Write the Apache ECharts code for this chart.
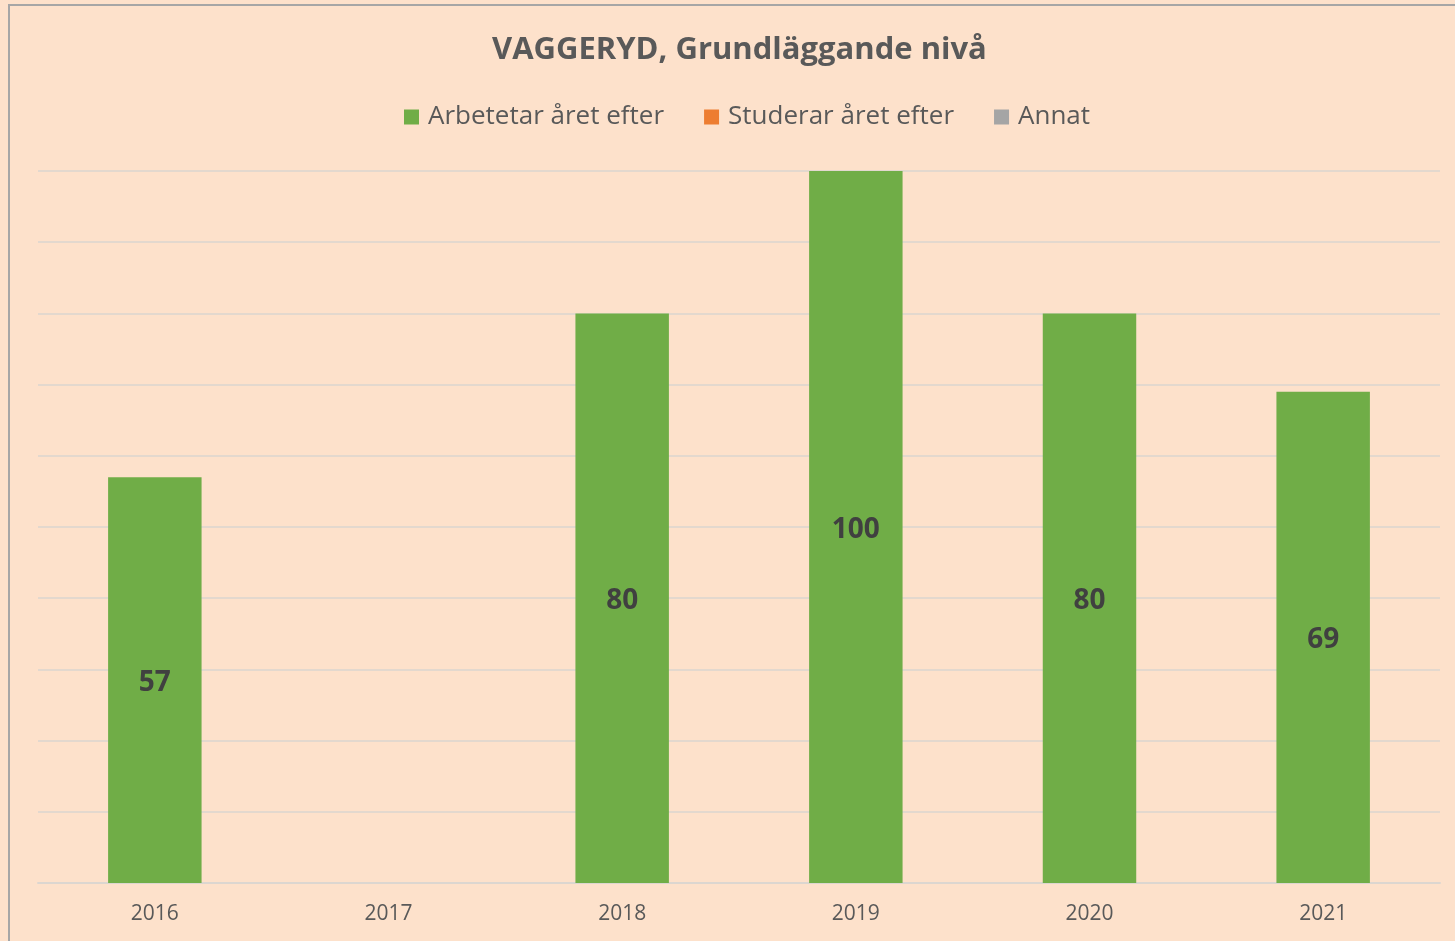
<!DOCTYPE html>
<html>
<head>
<meta charset="utf-8">
<script src="https://cdn.jsdelivr.net/npm/echarts@6/dist/echarts.min.js"></script>
<style>
html, body { margin: 0; padding: 0; background: #FDE1CB; }
#chart { width: 1455px; height: 941px; }
</style>
</head>
<body>
<div id="chart"></div>
<script>
const years = ['2016', '2017', '2018', '2019', '2020', '2021']
const arbetetar = [57, null, 80, 100, 80, 69]
const studerar = [0, null, 0, 0, 0, 0]
const annat = [0, null, 0, 0, 0, 0]

const font = '"Open Sans", "Noto Sans", sans-serif'

var myChart = echarts.init(document.getElementById('chart'))

// hide the zero labels of the empty stacks
const labelFmt = (p) => (p.value ? p.value : '')

const option = {
    backgroundColor: '#FDE1CB',
    textStyle: { fontFamily: font },
    title: {
        text: 'VAGGERYD, Grundläggande nivå',
        left: 492,
        top: 35,
        padding: 0,
        textStyle: { fontFamily: font, fontSize: 31, fontWeight: 'bold', color: '#595959' }
    },
    legend: {
        top: 99,
        left: 399,
        itemWidth: 15,
        itemHeight: 15,
        itemGap: 40,
        icon: 'rect',
        textStyle: { fontFamily: font, fontSize: 26, color: '#595959', padding: [0, 0, 0, 4] },
        data: ['Arbetetar året efter', 'Studerar året efter', 'Annat']
    },
    grid: { left: 38, right: 15, top: 171, bottom: 58, containLabel: false },
    xAxis: {
        type: 'category',
        data: years,
        axisLine: { lineStyle: { color: '#DCD6D0', width: 2 } },
        axisTick: { show: false },
        axisLabel: { fontFamily: font, fontSize: 21, color: '#595959', margin: 21 }
    },
    yAxis: {
        type: 'value',
        min: 0,
        max: 100,
        interval: 10,
        axisLabel: { show: false },
        axisLine: { show: false },
        axisTick: { show: false },
        splitLine: { lineStyle: { color: '#E3D8CE', width: 2 } }
    },
    graphic: [{
        type: 'rect',
        shape: { x: 9, y: 5, width: 1500, height: 1000 },
        style: { fill: 'none', stroke: '#A6A6A6', lineWidth: 2 },
        silent: true
    }],
    series: [{
        name: 'Arbetetar året efter',
        type: 'bar',
        stack: 'total',
        barWidth: '40%',
        data: arbetetar,
        itemStyle: { color: '#70AD47' },
        label: {
            show: true,
            position: 'inside',
            offset: [0, 3],
            formatter: labelFmt,
            fontFamily: font,
            fontSize: 28,
            fontWeight: 'bold',
            color: '#404040'
        }
    }, {
        name: 'Studerar året efter',
        type: 'bar',
        stack: 'total',
        data: studerar,
        itemStyle: { color: '#ED7D31' },
        label: { show: false }
    }, {
        name: 'Annat',
        type: 'bar',
        stack: 'total',
        data: annat,
        itemStyle: { color: '#A5A5A5' },
        label: { show: false }
    }]
}
myChart.setOption(option)
</script>
</body>
</html>
